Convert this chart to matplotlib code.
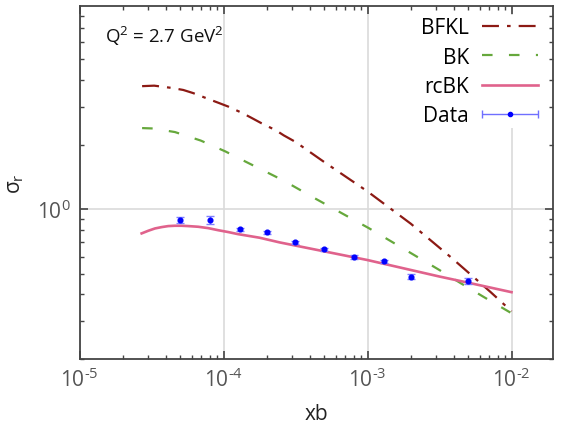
import numpy as np
import matplotlib
matplotlib.use("Agg")
import matplotlib.pyplot as plt
from matplotlib.ticker import FixedLocator, FuncFormatter, NullFormatter, LogLocator
from matplotlib.legend_handler import HandlerErrorbar
from matplotlib.container import ErrorbarContainer

plt.rcParams['font.family'] = ['Open Sans', 'DejaVu Sans']
plt.rcParams['mathtext.fontset'] = 'custom'
plt.rcParams['mathtext.rm'] = 'Open Sans'
plt.rcParams['mathtext.it'] = 'Open Sans:italic'
plt.rcParams['mathtext.bf'] = 'Open Sans:bold'
plt.rcParams['lines.scale_dashes'] = False

# ---- data ----
bfkl_x = [2.72e-5, 3.3e-5, 4.36e-5, 5.25e-5, 6.16e-5, 7.82e-5, 9.17e-5, 1.08e-4,
          1.35e-4, 1.56e-4, 1.83e-4, 2.32e-4, 2.62e-4, 3.16e-4, 5e-4,
          1e-3, 2e-3, 3.8e-3, 5.78e-3, 7.2e-3, 1e-2]
bfkl_y = [3.75, 3.77, 3.68, 3.60, 3.48, 3.27, 3.14, 3.01,
          2.81, 2.67, 2.52, 2.33, 2.21, 2.06, 1.66,
          1.21, 0.855, 0.596, 0.466, 0.409, 0.334]

bk_x = [2.72e-5, 3.25e-5, 4.6e-5, 6.95e-5, 1.03e-4, 1.44e-4, 2.32e-4, 3.03e-4,
        4.4e-4, 1.03e-3, 3.16e-3, 4.45e-3, 6.35e-3, 1e-2]
bk_y = [2.39, 2.38, 2.29, 2.09, 1.86, 1.66, 1.415, 1.285,
        1.115, 0.813, 0.52, 0.451, 0.391, 0.327]

rcbk_x = [2.70e-5, 3.0e-5, 3.34e-5, 3.72e-5, 4.13e-5, 4.59e-5, 5.11e-5, 5.69e-5,
          6.67e-5, 7.82e-5, 9.17e-5, 1.08e-4, 1.26e-4, 1.78e-4, 2.45e-4,
          1e-3, 3.16e-3, 5e-3, 1e-2]
rcbk_y = [0.771, 0.793, 0.813, 0.825, 0.834, 0.837, 0.837, 0.834,
          0.828, 0.816, 0.798, 0.782, 0.765, 0.736, 0.70,
          0.579, 0.485, 0.454, 0.41]

data_x = [5e-5, 8e-5, 1.3e-4, 2e-4, 3.16e-4, 5e-4, 8e-4, 1.3e-3, 2e-3, 5e-3]
data_y = [0.889, 0.889, 0.804, 0.779, 0.702, 0.650, 0.598, 0.571, 0.485, 0.463]
data_err = [0.029, 0.039, 0.013, 0.013, 0.012, 0.011, 0.011, 0.011, 0.013, 0.014]

xticks = [1e-5, 1e-4, 1e-3, 1e-2]
yticks = [1.0]

fig = plt.figure(figsize=(5.62, 4.27), dpi=100)
ax = fig.add_axes([0.1415, 0.1569, 0.843, 0.8274])
ax.set_xscale('log')
ax.set_yscale('log')
ax.set_xlim(1e-5, 1.95e-2)
ax.set_ylim(0.2, 8.9)

ax.grid(True, which='major', color='#dadada', lw=1.2, zorder=0)
ax.set_axisbelow(True)

l1, = ax.plot(bfkl_x, bfkl_y, color='#8c1a14', lw=1.6, label='BFKL', zorder=3)
l1.set_dashes([12.2, 5.8, 2.6, 5.8])
l2, = ax.plot(bk_x, bk_y, color='#66a83c', lw=1.6, label='BK', zorder=3)
l2.set_dashes([7.6, 11.8])
l3, = ax.plot(rcbk_x, rcbk_y, color='#e0628c', lw=1.9, label='rcBK', zorder=3)

ax.errorbar(data_x, data_y, yerr=data_err, fmt='o', color='#0000ff', ms=3.4,
            ecolor='#7f7fff', elinewidth=1.0, capsize=3.2, capthick=1.0, zorder=4)
proxy = ax.errorbar([np.nan], [np.nan], xerr=[1], fmt='o', color='#0000ff', ms=3.0,
                    ecolor='#6f6fff', elinewidth=1.0, capsize=3.2, capthick=1.0,
                    label='Data')

ax.xaxis.set_major_locator(FixedLocator(xticks))
ax.yaxis.set_major_locator(FixedLocator(yticks))
ax.xaxis.set_minor_locator(LogLocator(base=10, subs=np.arange(2, 10)))
ax.yaxis.set_minor_locator(LogLocator(base=10, subs=np.arange(2, 10)))

def fmt(v, pos):
    e = int(round(np.log10(v)))
    return r'10$^{\text{%d}}$' % e

ax.xaxis.set_major_formatter(FuncFormatter(fmt))
ax.yaxis.set_major_formatter(FuncFormatter(fmt))
ax.xaxis.set_minor_formatter(NullFormatter())
ax.yaxis.set_minor_formatter(NullFormatter())

for s in ax.spines.values():
    s.set_color('#444444')
    s.set_linewidth(1.3)
ax.tick_params(which='both', direction='in', top=True, right=True, color='#444444',
               labelcolor='#555555', labelsize=15)
ax.tick_params(which='major', length=5.5, width=1.2, pad=6)
ax.tick_params(which='minor', length=3, width=1.0)

ax.set_xlabel('xb', fontsize=15, color='#222222', labelpad=9)
ax.set_ylabel(r'σ$_{\mathregular{r}}$', fontsize=15, color='#222222', labelpad=8)

ax.text(0.054, 0.898, r'Q$^{\mathregular{2}}$ = 2.7 GeV$^{\mathregular{2}}$',
        transform=ax.transAxes, fontsize=13.5, color='#111111', va='baseline')

handles = [l1, l2, l3, proxy]
leg = ax.legend(handles=handles, labels=['BFKL', 'BK', 'rcBK', 'Data'],
                loc='upper right', bbox_to_anchor=(0.972, 0.973), markerfirst=False,
                fontsize=15, handlelength=2.7, handletextpad=0.6, labelspacing=0.4,
                frameon=True, fancybox=False, borderpad=0.1, borderaxespad=0,
                handler_map={ErrorbarContainer: HandlerErrorbar(xerr_size=1.35)})
leg.get_frame().set_edgecolor('none')
leg.get_frame().set_facecolor('white')
leg.get_frame().set_alpha(1.0)

fig.savefig('out.png', dpi=100)
